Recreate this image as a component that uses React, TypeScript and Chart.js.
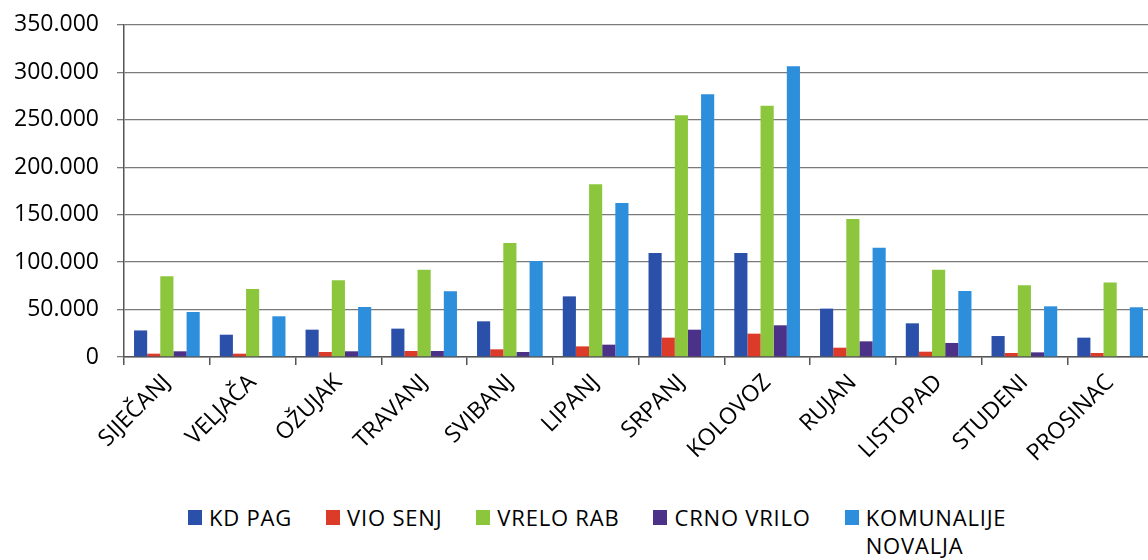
import React, { useEffect, useRef } from 'react';
import { Chart, registerables } from 'chart.js';

Chart.register(...registerables);

const months = ['SIJEČANJ', 'VELJAČA', 'OŽUJAK', 'TRAVANJ', 'SVIBANJ', 'LIPANJ', 'SRPANJ', 'KOLOVOZ', 'RUJAN', 'LISTOPAD', 'STUDENI', 'PROSINAC'];
const kdPag = [28000, 23500, 28800, 29900, 37600, 63900, 109600, 109600, 51000, 35500, 22100, 20400];
const vioSenj = [3500, 3500, 5300, 6300, 8100, 11200, 20400, 24600, 9800, 5600, 4200, 4200];
const vreloRab = [85000, 71700, 80800, 92000, 120200, 182000, 254700, 264900, 145500, 92000, 75500, 78400];
const crnoVrilo = [6000, 0, 6000, 6300, 5300, 13000, 28800, 33400, 16500, 14800, 4900, 700];
const komunalijeNovalja = [47400, 42900, 52700, 69200, 101200, 162300, 276900, 306400, 115200, 69600, 53400, 52400];

const seriesNames = ['KD PAG', 'VIO SENJ', 'VRELO RAB', 'CRNO VRILO', 'KOMUNALIJE NOVALJA'];
const legendLines = [['KD PAG'], ['VIO SENJ'], ['VRELO RAB'], ['CRNO VRILO'], ['KOMUNALIJE', 'NOVALJA']];
const seriesColors = ['#2b50aa', '#dd3b2a', '#8cc63c', '#4b3188', '#2d8edc'];
const seriesValues = [kdPag, vioSenj, vreloRab, crnoVrilo, komunalijeNovalja];

const yMax = 350000;
const yStep = 50000;

const fmt = (v: number) => String(Math.round(v)).replace(/\B(?=(\d{3})+(?!\d))/g, '.');

export default function App() {
  const ref = useRef<HTMLCanvasElement>(null);

  useEffect(() => {
    const font = '"Open Sans", sans-serif';
    const chart = new Chart(ref.current!, {
      type: 'bar',
      data: {
        labels: months,
        datasets: seriesNames.map((name, i) => ({
          label: name,
          data: seriesValues[i],
          backgroundColor: seriesColors[i],
          borderWidth: 0,
          categoryPercentage: 0.766,
          barPercentage: 1.0,
        })),
      },
      options: {
        animation: false,
        responsive: true,
        maintainAspectRatio: false,
        layout: { padding: { top: 10, right: 3, bottom: 0, left: 0 } },
        plugins: {
          legend: { display: false },
          tooltip: { enabled: false },
        },
        scales: {
          x: {
            grid: {
              display: true,
              drawOnChartArea: false,
              drawTicks: true,
              tickLength: 8,
              color: '#555',
              lineWidth: 1.5,
              offset: true,
            },
            border: { display: true, color: '#555', width: 1.5 },
            ticks: {
              minRotation: 45,
              maxRotation: 45,
              autoSkip: false,
              padding: 4,
              color: '#000',
              font: { family: font, size: 23 },
            },
            afterFit: (s: any) => {
              s.height = 123;
            },
          },
          y: {
            min: 0,
            max: yMax,
            grid: {
              color: '#7a7a7a',
              lineWidth: 1.3,
              tickLength: 7,
            },
            border: { display: true, color: '#555', width: 1.5 },
            ticks: {
              stepSize: yStep,
              padding: 18,
              color: '#000',
              font: { family: font, size: 23, lineHeight: 0.6 },
              callback: (v: any) => fmt(Number(v)),
            },
            afterFit: (s: any) => {
              s.width = 124;
            },
          },
        },
      },
    });
    return () => chart.destroy();
  }, []);

  return (
    <div
      style={{
        position: 'fixed',
        left: 0,
        top: 0,
        width: 1148,
        height: 560,
        overflow: 'hidden',
        background: '#fff',
        fontFamily: '"Open Sans", sans-serif',
      }}
    >
      <div style={{ position: 'absolute', left: 0, top: 0, width: 1156, height: 480 }}>
        <canvas ref={ref} />
      </div>
      <div
        style={{
          position: 'absolute',
          left: 188,
          top: 503,
          display: 'flex',
          alignItems: 'flex-start',
          gap: 34,
          fontSize: 22,
          letterSpacing: '0.8px',
          lineHeight: '28px',
          color: '#000',
          whiteSpace: 'nowrap',
        }}
      >
        {legendLines.map((lines, i) => (
          <div key={i} style={{ display: 'flex', alignItems: 'flex-start' }}>
            <span
              style={{
                display: 'inline-block',
                width: 14,
                height: 15,
                marginTop: 7,
                marginRight: 7,
                background: seriesColors[i],
              }}
            />
            <span>
              {lines.map((l, j) => (
                <div key={j}>{l}</div>
              ))}
            </span>
          </div>
        ))}
      </div>
    </div>
  );
}
